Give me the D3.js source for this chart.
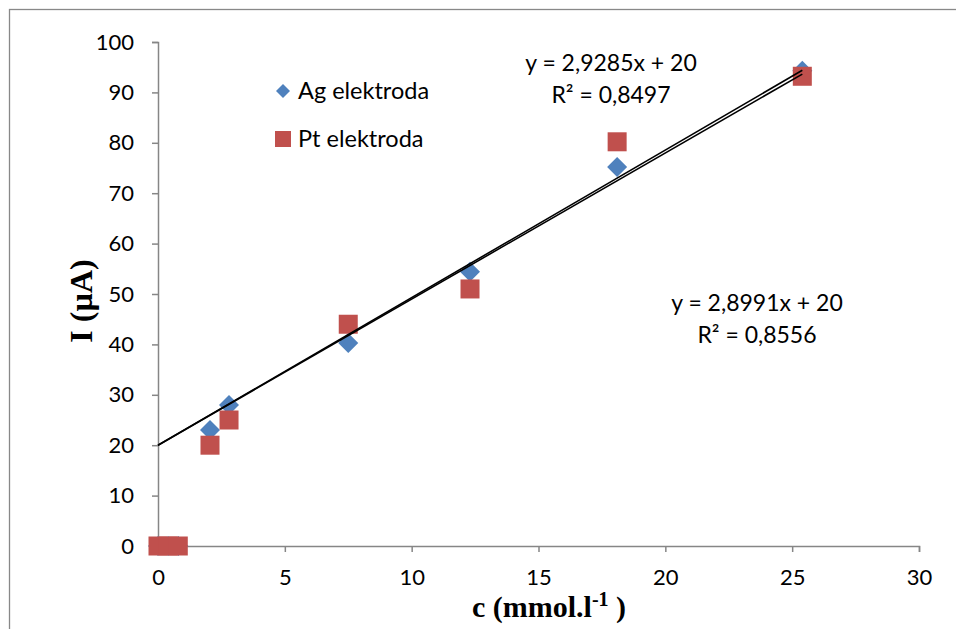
<!DOCTYPE html>
<html><head><meta charset="utf-8">
<script src="https://cdn.jsdelivr.net/npm/d3@7"></script>
<style>body{margin:0;background:#fff}svg{display:block}</style>
</head><body>
<script>
const xTicks = [0,5,10,15,20,25,30];
const yTicks = [0,10,20,30,40,50,60,70,80,90,100];
const agC = [0, 0.4, 0.8, 2.05, 2.8, 7.5, 12.3, 18.1, 25.4];
const agI = [0, 0, 0, 23, 28, 40.3, 54.4, 75.2, 94.3];
const ptC = [0, 0.4, 0.8, 2.05, 2.8, 7.5, 12.3, 18.1, 25.4];
const ptI = [0, 0, 0, 20, 25, 44, 51, 80.2, 93.2];
const trendSlopes = [2.9285, 2.8991];
const trendIntercept = 20;
const trendLabels = [["y = 2,9285x + 20","R² = 0,8497"],["y = 2,8991x + 20","R² = 0,8556"]];
const seriesNames = ["Ag elektroda","Pt elektroda"];

const W=956,H=629;
const svg=d3.select("body").append("svg").attr("width",W).attr("height",H);
const font="Lato, 'Open Sans', sans-serif";
svg.append("rect").attr("x",9.5).attr("y",9.5).attr("width",W+20).attr("height",H+20)
  .attr("fill","#fff").attr("stroke","#888").attr("stroke-width",1.3);

const x=d3.scaleLinear().domain([0,30]).range([158,919]);
const y=d3.scaleLinear().domain([0,100]).range([546,42]);
const grey="#868686";

const xa=svg.append("g").attr("transform","translate(0,546)")
  .call(d3.axisBottom(x).tickValues(xTicks).tickSize(6).tickPadding(21).tickFormat(d3.format("d")));
const ya=svg.append("g").attr("transform","translate(158,0)")
  .call(d3.axisLeft(y).tickValues(yTicks).tickSize(6).tickPadding(18).tickFormat(d3.format("d")));
[xa,ya].forEach(a=>{
  a.select(".domain").attr("stroke",grey).attr("stroke-width",1.5);
  a.selectAll(".tick line").attr("stroke",grey).attr("stroke-width",1.5);
  a.selectAll(".tick text").attr("font-family",font).attr("font-size",22).attr("fill","#000");
});
xa.selectAll(".tick text").attr("dy","0.55em");

const sq=19, dm=20;
const blue="#4F81BD", red="#C0504D";
const diamond=d3.symbol().type(d3.symbolSquare).size(dm*dm/2);
svg.append("g").selectAll("path").data(agC.map((c,i)=>[c,agI[i]])).join("path")
  .attr("d",diamond).attr("fill",blue)
  .attr("transform",d=>`translate(${x(d[0])},${y(d[1])}) rotate(45)`);
svg.append("g").selectAll("rect").data(ptC.map((c,i)=>[c,ptI[i]])).join("rect")
  .attr("x",d=>x(d[0])-sq/2).attr("y",d=>y(d[1])-sq/2).attr("width",sq).attr("height",sq)
  .attr("fill",red);

const xEnd = d3.max(agC);
trendSlopes.forEach(s=>{
  svg.append("line").attr("x1",x(0)).attr("y1",y(trendIntercept))
    .attr("x2",x(xEnd)).attr("y2",y(s*xEnd+trendIntercept))
    .attr("stroke","#000").attr("stroke-width",1.6);
});

// legend
const lg=svg.append("g");
lg.append("path").attr("d",d3.symbol().type(d3.symbolSquare).size(14*14/2)).attr("fill",blue)
  .attr("transform","translate(283,91) rotate(45)");
lg.append("rect").attr("x",275).attr("y",131).attr("width",16).attr("height",16).attr("fill",red);
lg.selectAll("text").data(seriesNames).join("text")
  .attr("x",298).attr("y",(d,i)=>91+i*48).attr("dy","0.35em")
  .attr("font-family",font).attr("font-size",23.5).text(d=>d);

// equations
const eqPos=[[611,63],[757,303]];
trendLabels.forEach((t,i)=>{
  t.forEach((line,j)=>{
    svg.append("text").attr("x",eqPos[i][0]).attr("y",eqPos[i][1]+j*32).attr("dy","0.35em")
      .attr("text-anchor","middle").attr("font-family",font).attr("font-size",23).text(line);
  });
});

// axis titles
svg.append("text").attr("transform","translate(92,301) rotate(-90)").attr("text-anchor","middle")
  .attr("font-family","'Liberation Serif', 'Times New Roman', serif").attr("font-weight","bold")
  .attr("font-size",32).text("I (µA)");
const xt=svg.append("text").attr("x",549).attr("y",617).attr("text-anchor","middle")
  .attr("font-family","'Liberation Serif', 'Times New Roman', serif").attr("font-weight","bold")
  .attr("font-size",30);
xt.append("tspan").text("c (mmol.l");
xt.append("tspan").attr("font-size",20).attr("dy",-11).text("-1");
xt.append("tspan").attr("dy",11).text(" )");
</script>
</body></html>
